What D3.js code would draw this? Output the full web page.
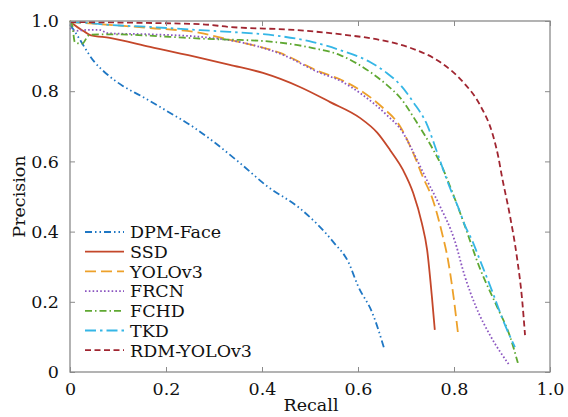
<!DOCTYPE html>
<html>
<head>
<meta charset="utf-8">
<script src="https://cdn.jsdelivr.net/npm/d3@7"></script>
<style>
  html, body { margin: 0; padding: 0; background: #fff; }
  svg { display: block; }
  svg text { font-family: "DejaVu Serif", serif !important; fill: #111; }
</style>
</head>
<body>
<svg id="chart" width="568" height="417"></svg>
<script>
// ---- data ----
const seriesNames = ["DPM-Face", "SSD", "YOLOv3", "FRCN", "FCHD", "TKD", "RDM-YOLOv3"];
const xTicks = [0, 0.2, 0.4, 0.6, 0.8, 1.0];
const xTickLabels = ["0", "0.2", "0.4", "0.6", "0.8", "1.0"];
const yTicks = [0, 0.2, 0.4, 0.6, 0.8, 1.0];
const yTickLabels = ["0", "0.2", "0.4", "0.6", "0.8", "1.0"];

const dpmRecall    = [0.0, 0.01, 0.05, 0.08, 0.11, 0.15, 0.20, 0.26, 0.30, 0.35, 0.41, 0.48, 0.55, 0.58, 0.60, 0.63, 0.655];
const dpmPrecision = [0.99, 0.97, 0.885, 0.845, 0.815, 0.785, 0.745, 0.695, 0.655, 0.600, 0.530, 0.465, 0.368, 0.313, 0.245, 0.168, 0.065];

const ssdRecall    = [0.0, 0.008, 0.031, 0.042, 0.083, 0.167, 0.271, 0.333, 0.402, 0.479, 0.542, 0.604, 0.640, 0.667, 0.694, 0.715, 0.733, 0.744, 0.754, 0.760];
const ssdPrecision = [1.0, 0.99, 0.969, 0.960, 0.952, 0.926, 0.895, 0.875, 0.852, 0.812, 0.769, 0.724, 0.682, 0.632, 0.575, 0.510, 0.424, 0.348, 0.214, 0.120];

const yoloRecall    = [0.0, 0.0625, 0.167, 0.271, 0.333, 0.4375, 0.521, 0.5625, 0.610, 0.650, 0.6875, 0.7125, 0.735, 0.756, 0.775, 0.7875, 0.798, 0.808];
const yoloPrecision = [0.997, 0.991, 0.980, 0.966, 0.946, 0.909, 0.855, 0.834, 0.798, 0.755, 0.700, 0.632, 0.556, 0.490, 0.396, 0.319, 0.225, 0.114];

const frcnRecall    = [0.0, 0.01, 0.04, 0.06, 0.08, 0.167, 0.27, 0.354, 0.4375, 0.521, 0.5625, 0.610, 0.660, 0.694, 0.710, 0.744, 0.768, 0.802, 0.822, 0.846, 0.875, 0.914];
const frcnPrecision = [0.98, 0.972, 0.975, 0.975, 0.965, 0.962, 0.955, 0.940, 0.907, 0.852, 0.830, 0.789, 0.732, 0.681, 0.640, 0.545, 0.480, 0.372, 0.275, 0.185, 0.105, 0.022];

const fchdRecall    = [0.0, 0.005, 0.01, 0.025, 0.04, 0.06, 0.083, 0.208, 0.27, 0.354, 0.402, 0.506, 0.5625, 0.625, 0.660, 0.6875, 0.723, 0.756, 0.775, 0.790, 0.819, 0.854, 0.890, 0.917, 0.933];
const fchdPrecision = [1.0, 0.985, 0.94, 0.935, 0.96, 0.962, 0.962, 0.955, 0.950, 0.946, 0.943, 0.923, 0.903, 0.855, 0.818, 0.782, 0.710, 0.635, 0.585, 0.535, 0.430, 0.295, 0.185, 0.100, 0.026];

const tkdRecall    = [0.0, 0.042, 0.0625, 0.167, 0.271, 0.333, 0.4375, 0.506, 0.5625, 0.625, 0.660, 0.690, 0.715, 0.744, 0.765, 0.790, 0.812, 0.822, 0.8375, 0.854, 0.881, 0.902, 0.927];
const tkdPrecision = [0.997, 0.994, 0.991, 0.983, 0.974, 0.969, 0.957, 0.940, 0.917, 0.883, 0.852, 0.815, 0.769, 0.704, 0.625, 0.530, 0.458, 0.420, 0.376, 0.319, 0.225, 0.148, 0.071];

const rdmRecall    = [0.0, 0.271, 0.333, 0.473, 0.577, 0.646, 0.710, 0.771, 0.819, 0.854, 0.881, 0.892, 0.900, 0.917, 0.931, 0.942, 0.948];
const rdmPrecision = [0.997, 0.991, 0.983, 0.974, 0.960, 0.946, 0.923, 0.883, 0.826, 0.761, 0.675, 0.615, 0.556, 0.442, 0.328, 0.205, 0.105];

const seriesRecall = [dpmRecall, ssdRecall, yoloRecall, frcnRecall, fchdRecall, tkdRecall, rdmRecall];
const seriesPrecision = [dpmPrecision, ssdPrecision, yoloPrecision, frcnPrecision, fchdPrecision, tkdPrecision, rdmPrecision];

// ---- styles ----
const colors = ["#1f77c4", "#c4472a", "#eda12a", "#8b55c0", "#5fa832", "#35b6e6", "#a02530"];
const dashes = ["7,3,1.5,3,1.5,3", null, "11,5", "1.6,2.2", "7,3,1.5,3", "11,4,2.5,4", "6,3.5"];

// ---- layout ----
const svg = d3.select("#chart");
const m = { left: 70, right: 550, top: 21, bottom: 372 };
const x = d3.scaleLinear().domain([0, 1]).range([m.left, m.right]);
const y = d3.scaleLinear().domain([0, 1]).range([m.bottom, m.top]);

const frameColor = "#8a8a8a";
const fontFam = "'DejaVu Serif', serif";

// series
const line = d3.line().x(d => x(d[0])).y(d => y(d[1])).curve(d3.curveMonotoneX);

seriesNames.forEach((name, i) => {
  const pts = seriesRecall[i].map((r, k) => [r, seriesPrecision[i][k]]);
  svg.append("path")
    .attr("d", line(pts))
    .attr("fill", "none")
    .attr("stroke", colors[i])
    .attr("stroke-width", 1.8)
    .attr("stroke-dasharray", dashes[i])
    .attr("stroke-linejoin", "round");
});

// frame
svg.append("rect")
  .attr("x", m.left).attr("y", m.top)
  .attr("width", m.right - m.left).attr("height", m.bottom - m.top)
  .attr("fill", "none").attr("stroke", frameColor).attr("stroke-width", 1.3);

// axes with inward ticks
const xAxis = d3.axisBottom(x).tickValues(xTicks).tickSize(-5).tickFormat((d, i) => xTickLabels[i]).tickPadding(10);
const gx = svg.append("g").attr("transform", `translate(0,${m.bottom})`).call(xAxis);
const yAxis = d3.axisLeft(y).tickValues(yTicks).tickSize(-5).tickFormat((d, i) => yTickLabels[i]).tickPadding(13);
const gy = svg.append("g").attr("transform", `translate(${m.left},0)`).call(yAxis);
const gxt = svg.append("g").attr("transform", `translate(0,${m.top})`).call(d3.axisTop(x).tickValues(xTicks).tickSize(-5).tickFormat(""));
const gyr = svg.append("g").attr("transform", `translate(${m.right},0)`).call(d3.axisRight(y).tickValues(yTicks).tickSize(-5).tickFormat(""));

[gx, gy, gxt, gyr].forEach(g => {
  g.attr("font-family", fontFam);
  g.select(".domain").remove();
  g.selectAll(".tick line").attr("stroke", frameColor).attr("stroke-width", 1);
  g.selectAll(".tick text").attr("font-size", 17.5).attr("fill", "#111");
});
gx.selectAll(".tick text").attr("dy", "0.72em");
gy.selectAll(".tick text").attr("dx", "2");

// axis titles
svg.append("text")
  .attr("x", (m.left + m.right) / 2 + 1).attr("y", 411)
  .attr("text-anchor", "middle").attr("font-size", 17.5).attr("font-family", fontFam)
  .text("Recall");
svg.append("text")
  .attr("transform", `translate(25,${(m.top + m.bottom) / 2}) rotate(-90)`)
  .attr("text-anchor", "middle").attr("font-size", 17.5).attr("font-family", fontFam)
  .text("Precision");

// legend
const legendY0 = 232, legendStep = 19.7;
seriesNames.forEach((name, i) => {
  const ly = legendY0 + i * legendStep;
  svg.append("line")
    .attr("x1", 85).attr("x2", 124).attr("y1", ly).attr("y2", ly)
    .attr("stroke", colors[i]).attr("stroke-width", 1.8)
    .attr("stroke-dasharray", dashes[i]);
  svg.append("text")
    .attr("x", 130).attr("y", ly).attr("dy", "0.36em")
    .attr("font-size", 17.5).attr("font-family", fontFam)
    .text(name);
});
</script>
</body>
</html>
